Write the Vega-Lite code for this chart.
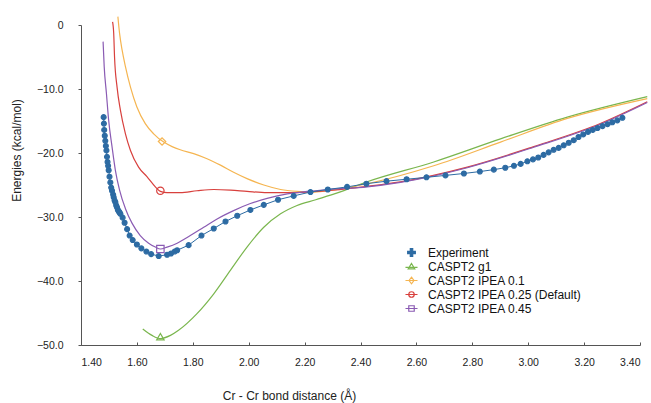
{
  "$schema": "https://vega.github.io/schema/vega-lite/v6.json",
  "autosize": "none",
  "width": 559,
  "height": 320,
  "padding": {"left": 81, "top": 25, "right": 11, "bottom": 58},
  "background": "white",
  "config": {
    "view": {"stroke": null},
    "font": "Liberation Sans",
    "axis": {"grid": false, "domainColor": "#555", "tickColor": "#555", "labelColor": "#222", "titleColor": "#222", "labelFontSize": 10.5, "titleFontSize": 12, "titleFontWeight": "normal", "labelFont": "Liberation Sans", "titleFont": "Liberation Sans"},
    "legend": {"labelFont": "Liberation Sans"}
  },
  "datasets": {
    "points": [
      {"series": "Experiment", "x": 1.481, "y": -14.4},
      {"series": "Experiment", "x": 1.482, "y": -15.4},
      {"series": "Experiment", "x": 1.483, "y": -16.4},
      {"series": "Experiment", "x": 1.485, "y": -17.3},
      {"series": "Experiment", "x": 1.487, "y": -18.1},
      {"series": "Experiment", "x": 1.489, "y": -18.9},
      {"series": "Experiment", "x": 1.491, "y": -19.6},
      {"series": "Experiment", "x": 1.493, "y": -20.6},
      {"series": "Experiment", "x": 1.495, "y": -21.4},
      {"series": "Experiment", "x": 1.497, "y": -22.0},
      {"series": "Experiment", "x": 1.499, "y": -22.7},
      {"series": "Experiment", "x": 1.502, "y": -23.7},
      {"series": "Experiment", "x": 1.505, "y": -24.6},
      {"series": "Experiment", "x": 1.508, "y": -25.4},
      {"series": "Experiment", "x": 1.511, "y": -25.9},
      {"series": "Experiment", "x": 1.515, "y": -26.5},
      {"series": "Experiment", "x": 1.517, "y": -26.9},
      {"series": "Experiment", "x": 1.520, "y": -27.4},
      {"series": "Experiment", "x": 1.523, "y": -27.7},
      {"series": "Experiment", "x": 1.526, "y": -28.2},
      {"series": "Experiment", "x": 1.529, "y": -28.5},
      {"series": "Experiment", "x": 1.532, "y": -28.9},
      {"series": "Experiment", "x": 1.535, "y": -29.1},
      {"series": "Experiment", "x": 1.538, "y": -29.3},
      {"series": "Experiment", "x": 1.541, "y": -29.5},
      {"series": "Experiment", "x": 1.549, "y": -30.1},
      {"series": "Experiment", "x": 1.556, "y": -30.9},
      {"series": "Experiment", "x": 1.565, "y": -31.9},
      {"series": "Experiment", "x": 1.574, "y": -32.9},
      {"series": "Experiment", "x": 1.585, "y": -33.6},
      {"series": "Experiment", "x": 1.600, "y": -34.3},
      {"series": "Experiment", "x": 1.616, "y": -34.9},
      {"series": "Experiment", "x": 1.634, "y": -35.4},
      {"series": "Experiment", "x": 1.651, "y": -35.8},
      {"series": "Experiment", "x": 1.678, "y": -36.1},
      {"series": "Experiment", "x": 1.708, "y": -35.9},
      {"series": "Experiment", "x": 1.722, "y": -35.7},
      {"series": "Experiment", "x": 1.735, "y": -35.4},
      {"series": "Experiment", "x": 1.744, "y": -35.2},
      {"series": "Experiment", "x": 1.785, "y": -34.4},
      {"series": "Experiment", "x": 1.831, "y": -32.9},
      {"series": "Experiment", "x": 1.875, "y": -31.8},
      {"series": "Experiment", "x": 1.917, "y": -30.7},
      {"series": "Experiment", "x": 1.959, "y": -29.8},
      {"series": "Experiment", "x": 2.006, "y": -28.9},
      {"series": "Experiment", "x": 2.054, "y": -28.1},
      {"series": "Experiment", "x": 2.105, "y": -27.3},
      {"series": "Experiment", "x": 2.161, "y": -26.7},
      {"series": "Experiment", "x": 2.221, "y": -26.1},
      {"series": "Experiment", "x": 2.283, "y": -25.7},
      {"series": "Experiment", "x": 2.352, "y": -25.3},
      {"series": "Experiment", "x": 2.421, "y": -24.8},
      {"series": "Experiment", "x": 2.493, "y": -24.4},
      {"series": "Experiment", "x": 2.565, "y": -24.1},
      {"series": "Experiment", "x": 2.636, "y": -23.8},
      {"series": "Experiment", "x": 2.704, "y": -23.5},
      {"series": "Experiment", "x": 2.770, "y": -23.2},
      {"series": "Experiment", "x": 2.827, "y": -22.9},
      {"series": "Experiment", "x": 2.877, "y": -22.6},
      {"series": "Experiment", "x": 2.918, "y": -22.3},
      {"series": "Experiment", "x": 2.949, "y": -22.0},
      {"series": "Experiment", "x": 2.973, "y": -21.7},
      {"series": "Experiment", "x": 2.997, "y": -21.3},
      {"series": "Experiment", "x": 3.017, "y": -21.0},
      {"series": "Experiment", "x": 3.036, "y": -20.7},
      {"series": "Experiment", "x": 3.055, "y": -20.3},
      {"series": "Experiment", "x": 3.073, "y": -19.9},
      {"series": "Experiment", "x": 3.091, "y": -19.5},
      {"series": "Experiment", "x": 3.109, "y": -19.2},
      {"series": "Experiment", "x": 3.127, "y": -18.8},
      {"series": "Experiment", "x": 3.145, "y": -18.4},
      {"series": "Experiment", "x": 3.163, "y": -18.0},
      {"series": "Experiment", "x": 3.180, "y": -17.5},
      {"series": "Experiment", "x": 3.197, "y": -17.1},
      {"series": "Experiment", "x": 3.214, "y": -16.7},
      {"series": "Experiment", "x": 3.231, "y": -16.4},
      {"series": "Experiment", "x": 3.248, "y": -16.1},
      {"series": "Experiment", "x": 3.266, "y": -15.8},
      {"series": "Experiment", "x": 3.284, "y": -15.5},
      {"series": "Experiment", "x": 3.301, "y": -15.2},
      {"series": "Experiment", "x": 3.319, "y": -14.9},
      {"series": "Experiment", "x": 3.337, "y": -14.5},
      {"series": "CASPT2 g1", "x": 1.684, "y": -48.7},
      {"series": "CASPT2 IPEA 0.1", "x": 1.69, "y": -18.2},
      {"series": "CASPT2 IPEA 0.25 (Default)", "x": 1.684, "y": -25.9},
      {"series": "CASPT2 IPEA 0.45", "x": 1.684, "y": -35.0}
    ],
    "curves": [
      {"series": "CASPT2 g1", "x": 1.621, "y": -47.5},
      {"series": "CASPT2 g1", "x": 1.654, "y": -48.5},
      {"series": "CASPT2 g1", "x": 1.684, "y": -49.0},
      {"series": "CASPT2 g1", "x": 1.720, "y": -48.5},
      {"series": "CASPT2 g1", "x": 1.749, "y": -47.7},
      {"series": "CASPT2 g1", "x": 1.815, "y": -45.1},
      {"series": "CASPT2 g1", "x": 1.875, "y": -42.0},
      {"series": "CASPT2 g1", "x": 1.935, "y": -38.3},
      {"series": "CASPT2 g1", "x": 1.994, "y": -34.7},
      {"series": "CASPT2 g1", "x": 2.054, "y": -31.6},
      {"series": "CASPT2 g1", "x": 2.114, "y": -29.5},
      {"series": "CASPT2 g1", "x": 2.173, "y": -28.2},
      {"series": "CASPT2 g1", "x": 2.240, "y": -27.3},
      {"series": "CASPT2 g1", "x": 2.320, "y": -26.2},
      {"series": "CASPT2 g1", "x": 2.424, "y": -24.5},
      {"series": "CASPT2 g1", "x": 2.662, "y": -21.4},
      {"series": "CASPT2 g1", "x": 2.901, "y": -17.8},
      {"series": "CASPT2 g1", "x": 3.140, "y": -14.4},
      {"series": "CASPT2 g1", "x": 3.426, "y": -11.2},
      {"series": "CASPT2 IPEA 0.1", "x": 1.532, "y": 1.3},
      {"series": "CASPT2 IPEA 0.1", "x": 1.538, "y": -1.3},
      {"series": "CASPT2 IPEA 0.1", "x": 1.547, "y": -3.9},
      {"series": "CASPT2 IPEA 0.1", "x": 1.559, "y": -6.5},
      {"series": "CASPT2 IPEA 0.1", "x": 1.577, "y": -9.7},
      {"series": "CASPT2 IPEA 0.1", "x": 1.600, "y": -12.8},
      {"series": "CASPT2 IPEA 0.1", "x": 1.630, "y": -15.4},
      {"series": "CASPT2 IPEA 0.1", "x": 1.660, "y": -17.0},
      {"series": "CASPT2 IPEA 0.1", "x": 1.696, "y": -18.3},
      {"series": "CASPT2 IPEA 0.1", "x": 1.726, "y": -19.0},
      {"series": "CASPT2 IPEA 0.1", "x": 1.755, "y": -19.5},
      {"series": "CASPT2 IPEA 0.1", "x": 1.803, "y": -20.1},
      {"series": "CASPT2 IPEA 0.1", "x": 1.851, "y": -20.9},
      {"series": "CASPT2 IPEA 0.1", "x": 1.899, "y": -21.9},
      {"series": "CASPT2 IPEA 0.1", "x": 1.946, "y": -23.0},
      {"series": "CASPT2 IPEA 0.1", "x": 1.994, "y": -24.0},
      {"series": "CASPT2 IPEA 0.1", "x": 2.054, "y": -25.0},
      {"series": "CASPT2 IPEA 0.1", "x": 2.114, "y": -25.7},
      {"series": "CASPT2 IPEA 0.1", "x": 2.173, "y": -26.0},
      {"series": "CASPT2 IPEA 0.1", "x": 2.233, "y": -26.1},
      {"series": "CASPT2 IPEA 0.1", "x": 2.300, "y": -25.8},
      {"series": "CASPT2 IPEA 0.1", "x": 2.424, "y": -24.8},
      {"series": "CASPT2 IPEA 0.1", "x": 2.662, "y": -22.0},
      {"series": "CASPT2 IPEA 0.1", "x": 2.901, "y": -18.3},
      {"series": "CASPT2 IPEA 0.1", "x": 3.140, "y": -14.6},
      {"series": "CASPT2 IPEA 0.1", "x": 3.426, "y": -11.5},
      {"series": "CASPT2 IPEA 0.25 (Default)", "x": 1.513, "y": 0.5},
      {"series": "CASPT2 IPEA 0.25 (Default)", "x": 1.517, "y": -1.3},
      {"series": "CASPT2 IPEA 0.25 (Default)", "x": 1.520, "y": -5.0},
      {"series": "CASPT2 IPEA 0.25 (Default)", "x": 1.529, "y": -9.7},
      {"series": "CASPT2 IPEA 0.25 (Default)", "x": 1.541, "y": -13.3},
      {"series": "CASPT2 IPEA 0.25 (Default)", "x": 1.559, "y": -17.0},
      {"series": "CASPT2 IPEA 0.25 (Default)", "x": 1.577, "y": -19.6},
      {"series": "CASPT2 IPEA 0.25 (Default)", "x": 1.606, "y": -22.2},
      {"series": "CASPT2 IPEA 0.25 (Default)", "x": 1.636, "y": -23.7},
      {"series": "CASPT2 IPEA 0.25 (Default)", "x": 1.666, "y": -25.3},
      {"series": "CASPT2 IPEA 0.25 (Default)", "x": 1.684, "y": -26.0},
      {"series": "CASPT2 IPEA 0.25 (Default)", "x": 1.708, "y": -26.2},
      {"series": "CASPT2 IPEA 0.25 (Default)", "x": 1.755, "y": -26.2},
      {"series": "CASPT2 IPEA 0.25 (Default)", "x": 1.815, "y": -25.9},
      {"series": "CASPT2 IPEA 0.25 (Default)", "x": 1.875, "y": -25.7},
      {"series": "CASPT2 IPEA 0.25 (Default)", "x": 1.935, "y": -25.8},
      {"series": "CASPT2 IPEA 0.25 (Default)", "x": 1.994, "y": -26.0},
      {"series": "CASPT2 IPEA 0.25 (Default)", "x": 2.066, "y": -26.2},
      {"series": "CASPT2 IPEA 0.25 (Default)", "x": 2.138, "y": -26.2},
      {"series": "CASPT2 IPEA 0.25 (Default)", "x": 2.209, "y": -26.1},
      {"series": "CASPT2 IPEA 0.25 (Default)", "x": 2.300, "y": -25.8},
      {"series": "CASPT2 IPEA 0.25 (Default)", "x": 2.424, "y": -25.2},
      {"series": "CASPT2 IPEA 0.25 (Default)", "x": 2.543, "y": -24.5},
      {"series": "CASPT2 IPEA 0.25 (Default)", "x": 2.782, "y": -22.2},
      {"series": "CASPT2 IPEA 0.25 (Default)", "x": 3.020, "y": -19.0},
      {"series": "CASPT2 IPEA 0.25 (Default)", "x": 3.258, "y": -15.4},
      {"series": "CASPT2 IPEA 0.25 (Default)", "x": 3.426, "y": -12.0},
      {"series": "CASPT2 IPEA 0.45", "x": 1.479, "y": -2.6},
      {"series": "CASPT2 IPEA 0.45", "x": 1.483, "y": -6.5},
      {"series": "CASPT2 IPEA 0.45", "x": 1.491, "y": -10.7},
      {"series": "CASPT2 IPEA 0.45", "x": 1.499, "y": -14.9},
      {"series": "CASPT2 IPEA 0.45", "x": 1.511, "y": -19.0},
      {"series": "CASPT2 IPEA 0.45", "x": 1.523, "y": -22.7},
      {"series": "CASPT2 IPEA 0.45", "x": 1.538, "y": -25.8},
      {"series": "CASPT2 IPEA 0.45", "x": 1.559, "y": -28.7},
      {"series": "CASPT2 IPEA 0.45", "x": 1.583, "y": -31.0},
      {"series": "CASPT2 IPEA 0.45", "x": 1.612, "y": -32.9},
      {"series": "CASPT2 IPEA 0.45", "x": 1.642, "y": -34.1},
      {"series": "CASPT2 IPEA 0.45", "x": 1.666, "y": -34.7},
      {"series": "CASPT2 IPEA 0.45", "x": 1.684, "y": -35.0},
      {"series": "CASPT2 IPEA 0.45", "x": 1.708, "y": -34.7},
      {"series": "CASPT2 IPEA 0.45", "x": 1.744, "y": -34.1},
      {"series": "CASPT2 IPEA 0.45", "x": 1.791, "y": -32.9},
      {"series": "CASPT2 IPEA 0.45", "x": 1.839, "y": -31.6},
      {"series": "CASPT2 IPEA 0.45", "x": 1.887, "y": -30.3},
      {"series": "CASPT2 IPEA 0.45", "x": 1.946, "y": -29.0},
      {"series": "CASPT2 IPEA 0.45", "x": 2.006, "y": -27.9},
      {"series": "CASPT2 IPEA 0.45", "x": 2.066, "y": -27.1},
      {"series": "CASPT2 IPEA 0.45", "x": 2.138, "y": -26.4},
      {"series": "CASPT2 IPEA 0.45", "x": 2.209, "y": -26.0},
      {"series": "CASPT2 IPEA 0.45", "x": 2.287, "y": -25.7},
      {"series": "CASPT2 IPEA 0.45", "x": 2.424, "y": -25.3},
      {"series": "CASPT2 IPEA 0.45", "x": 2.543, "y": -24.6},
      {"series": "CASPT2 IPEA 0.45", "x": 2.782, "y": -22.3},
      {"series": "CASPT2 IPEA 0.45", "x": 3.020, "y": -19.1},
      {"series": "CASPT2 IPEA 0.45", "x": 3.258, "y": -15.5},
      {"series": "CASPT2 IPEA 0.45", "x": 3.426, "y": -12.1}
    ]
  },
  "encoding": {
    "x": {"field": "x", "type": "quantitative",
      "scale": {"domain": [1.4, 3.4], "nice": false, "zero": false},
      "axis": {"title": "Cr - Cr bond distance (Å)", "values": [1.4, 1.6, 1.8, 2.0, 2.2, 2.4, 2.6, 2.8, 3.0, 3.2, 3.4], "format": ".2f", "tickSize": -3, "labelPadding": 15, "titleX": 208, "titleY": 50, "titleBaseline": "middle", "titleAnchor": null}},
    "y": {"field": "y", "type": "quantitative",
      "scale": {"domain": [-50, 0], "nice": false, "zero": false},
      "axis": {"title": "Energies (kcal/mol)", "values": [0, -10, -20, -30, -40, -50], "labelExpr": "datum.value == 0 ? '0' : format(datum.value, '.1f')", "tickSize": 3, "labelPadding": 15, "titleX": -65, "titleY": 125, "titleBaseline": "middle", "titleAlign": "center"}},
    "color": {"field": "series", "type": "nominal",
      "scale": {"domain": ["Experiment", "CASPT2 g1", "CASPT2 IPEA 0.1", "CASPT2 IPEA 0.25 (Default)", "CASPT2 IPEA 0.45"],
        "range": ["#2d6ba3", "#7ab64e", "#f5b551", "#d8403d", "#8a5bb3"]},
      "legend": {"orient": "none", "legendX": 324, "legendY": 221, "title": null, "padding": 0,
        "labelFontSize": 12, "labelColor": "#111", "labelOffset": 10, "rowPadding": 1, "symbolSize": 120, "symbolStrokeWidth": 1.2,
        "encode": {"symbols": {"update": {
          "fill": {"signal": "datum.value === 'Experiment' ? '#2d6ba3' : 'transparent'"},
          "shape": {"signal": "datum.value === 'Experiment' ? 'M-0.7,-0.22H-0.22V-0.7H0.22V-0.22H0.7V0.22H0.22V0.7H-0.22V0.22H-0.7Z' : datum.value === 'CASPT2 g1' ? 'M-1.1,0.15H1.1M0,-0.55L0.6,0.45L-0.6,0.45Z' : datum.value === 'CASPT2 IPEA 0.1' ? 'M-1.1,0H1.1M0,-0.6L0.45,0L0,0.6L-0.45,0Z' : datum.value === 'CASPT2 IPEA 0.25 (Default)' ? 'M-1.1,0H1.1M0.5,0A0.5,0.5 0 1,1 -0.5,0A0.5,0.5 0 1,1 0.5,0' : 'M-1.1,0H1.1M-0.5,-0.5H0.5V0.5H-0.5Z'"}
        }}}}
    }
  },
  "layer": [
    {
      "data": {"name": "curves"},
      "mark": {"type": "line", "strokeWidth": 1.2, "interpolate": "monotone", "clip": false}
    },
    {
      "data": {"name": "points"},
      "transform": [{"filter": "datum.series === 'Experiment'"}],
      "mark": {"type": "line", "strokeWidth": 1, "clip": false}
    },
    {
      "data": {"name": "points"},
      "mark": {"type": "point", "filled": false, "strokeWidth": 1.2, "opacity": 1, "clip": false},
      "encoding": {
        "shape": {"condition": [
          {"test": "datum.series === 'CASPT2 g1'", "value": "triangle-up"},
          {"test": "datum.series === 'CASPT2 IPEA 0.1'", "value": "diamond"},
          {"test": "datum.series === 'CASPT2 IPEA 0.45'", "value": "square"}
        ], "value": "circle"},
        "fill": {"condition": {"test": "datum.series === 'Experiment'", "value": "#2d6ba3"}, "value": "transparent"},
        "size": {"condition": {"test": "datum.series === 'Experiment'", "value": 24}, "value": 55}
      }
    }
  ]
}
